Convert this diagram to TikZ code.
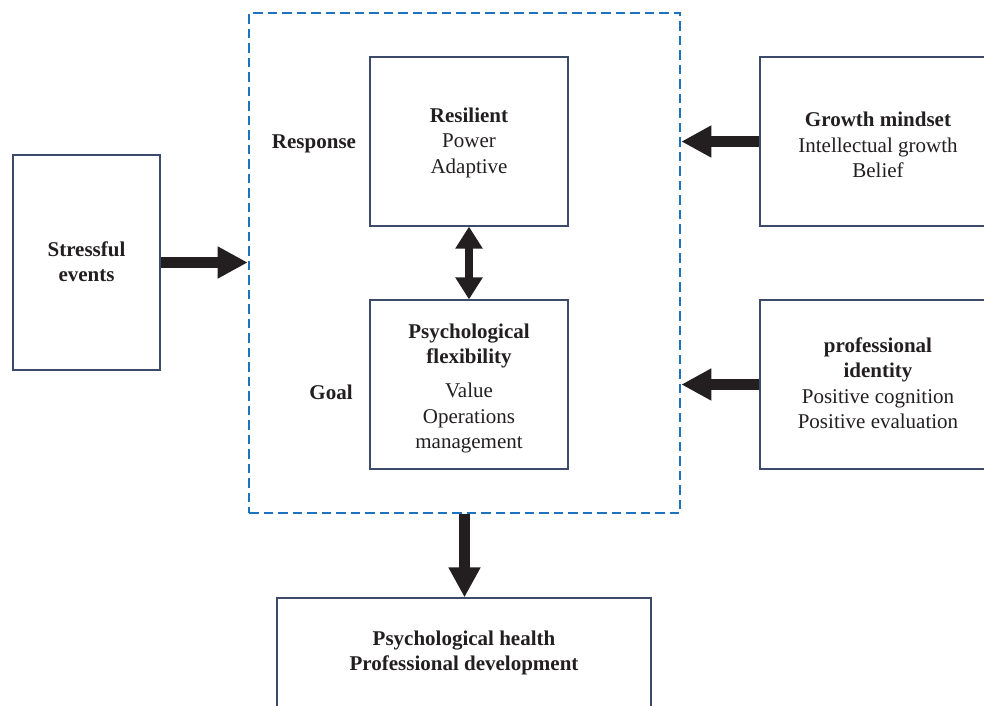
\documentclass[tikz,border=0pt]{standalone}
\usepackage{fontspec}
\setmainfont{Liberation Serif}
\usetikzlibrary{arrows.meta}
\definecolor{boxc}{RGB}{60,75,105}
\definecolor{dashc}{RGB}{30,115,190}
\definecolor{inkc}{RGB}{35,31,32}
\begin{document}
\begin{tikzpicture}[x=1pt,y=-1pt,
  box/.style={draw=boxc, line width=1.2pt, inner sep=0pt},
  txt/.style={align=center, text=inkc, inner sep=0pt, font=\fontsize{21}{25.5}\selectfont},
  lbl/.style={font=\fontsize{21}{25.5}\selectfont\bfseries, text=inkc, inner sep=0pt},
  frame/.style={draw=dashc, line width=2.6pt, dash pattern=on 9.5pt off 5pt, inner sep=0pt},
  bigarrow/.style={draw=inkc, line width=10.5pt, -{Triangle[length=30pt,width=30pt]}},
  dbl/.style={draw=inkc, line width=8pt, {Triangle[length=22pt,width=26pt]}-{Triangle[length=22pt,width=26pt]}},
]
\clip (0,0) rectangle (984,705);
\node[frame, minimum width=431pt, minimum height=500pt] (frame) at (464.5,263) {};
\node[box, minimum width=147pt, minimum height=215pt] (stress) at (86.5,262.5) {};
\node[box, minimum width=198pt, minimum height=169pt] (res) at (469,141.5) {};
\node[box, minimum width=198pt, minimum height=169pt] (flex) at (469,384.5) {};
\node[box, minimum width=236pt, minimum height=169pt] (growth) at (878,141.5) {};
\node[box, minimum width=236pt, minimum height=169pt] (ident) at (878,384.5) {};
\node[box, minimum width=374pt, minimum height=120pt] (bot) at (464,658) {};
\node[txt] (stresstxt) at (86.5,261.5) {\textbf{Stressful}\\\textbf{events}};
\node[txt] (restxt) at (469,142.5) {\textbf{Resilient}\\Power\\Adaptive};
\node[txt] (flextxt) at (469,388.5) {\textbf{Psychological}\\\textbf{flexibility}\\[8.5pt]Value\\Operations\\management};
\node[txt] (growthtxt) at (878,145) {\textbf{Growth mindset}\\Intellectual growth\\Belief};
\node[txt] (identtxt) at (878,383) {\textbf{professional}\\\textbf{identity}\\Positive cognition\\Positive evaluation};
\node[lbl, align=center] (bottxt) at (464,653) {Psychological health\\Professional development};
\node[lbl] (resp) at (314,144) {Response};
\node[lbl] (goal) at (331,392) {Goal};
\draw[bigarrow] (stress.east) -- (stress.east -| frame.west);
\draw[bigarrow] (growth.west) -- (growth.west -| frame.east);
\draw[bigarrow] (ident.west) -- (ident.west -| frame.east);
\draw[bigarrow] (frame.south) -- (frame.south |- bot.north);
\draw[dbl] (res.south) -- (flex.north);
\end{tikzpicture}
\end{document}
